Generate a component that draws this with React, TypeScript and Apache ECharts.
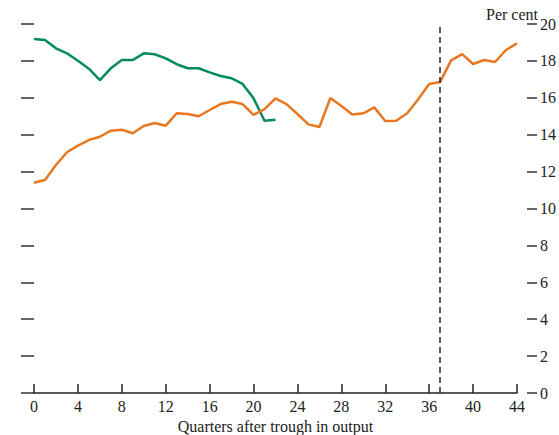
import { useEffect, useRef } from 'react';
import * as echarts from 'echarts';

const quarters = Array.from({ length: 45 }, (_, i) => i);

const greenSeries = [
  19.19, 19.13, 18.68, 18.41, 18.01, 17.58, 16.96, 17.6, 18.05, 18.05, 18.41, 18.36, 18.14, 17.82,
  17.6, 17.6, 17.38, 17.18, 17.06, 16.75, 15.97, 14.76, 14.81,
];

const orangeSeries = [
  11.4, 11.54, 12.36, 13.05, 13.41, 13.71, 13.89, 14.22, 14.27, 14.08, 14.47, 14.63, 14.49, 15.16,
  15.12, 15.0, 15.34, 15.66, 15.79, 15.66, 15.07, 15.39, 15.97, 15.66, 15.12, 14.56, 14.42, 15.99,
  15.56, 15.1, 15.16, 15.48, 14.74, 14.76, 15.16, 15.92, 16.75, 16.86, 18.03, 18.37, 17.83, 18.05,
  17.94, 18.59, 18.95,
];

const markerQuarter = 37;

const FONT = '"Liberation Serif", "DejaVu Serif", serif';

export default function App() {
  const chartRef = useRef<HTMLDivElement>(null);

  useEffect(() => {
    if (!chartRef.current) return;
    document.body.style.margin = '0';
    const chart = echarts.init(chartRef.current, undefined, { renderer: 'svg' });

    chart.setOption({
      animation: false,
      grid: { left: 34, right: 42, top: 24, bottom: 42, outerBoundsMode: 'none', containLabel: false },
      xAxis: {
        type: 'value',
        min: 0,
        max: 44,
        interval: 4,
        name: 'Quarters after trough in output',
        nameLocation: 'middle',
        nameGap: 25,
        nameTextStyle: { fontFamily: FONT, fontSize: 16, color: '#222' },
        axisLine: { lineStyle: { color: '#222', width: 1.5 } },
        axisTick: { inside: true, length: 9, lineStyle: { color: '#222', width: 1.5 } },
        axisLabel: { fontFamily: FONT, fontSize: 16, color: '#222', margin: 5 },
        splitLine: { show: false },
      },
      yAxis: [
        {
          type: 'value',
          position: 'left',
          min: 0,
          max: 20,
          interval: 2,
          offset: 8,
          axisLine: { show: false },
          axisTick: { show: true, length: 13, lineStyle: { color: '#333', width: 1.5 } },
          axisLabel: { show: false },
          splitLine: { show: false },
        },
        {
          type: 'value',
          position: 'right',
          min: 0,
          max: 20,
          interval: 2,
          offset: 10,
          axisLine: { show: false },
          axisTick: { show: true, length: 10, lineStyle: { color: '#333', width: 1.5 } },
          axisLabel: { fontFamily: FONT, fontSize: 16, color: '#222', margin: 13 },
          splitLine: { show: false },
        },
      ],
      graphic: [
        {
          type: 'text',
          right: 21,
          top: 6,
          style: { text: 'Per cent', font: `16px ${FONT}`, fill: '#222' },
        },
      ],
      series: [
        {
          type: 'line',
          data: greenSeries.map((v, i) => [quarters[i], v]),
          showSymbol: false,
          lineStyle: { color: '#008a5e', width: 2.5 },
          itemStyle: { color: '#008a5e' },
        },
        {
          type: 'line',
          data: orangeSeries.map((v, i) => [quarters[i], v]),
          showSymbol: false,
          lineStyle: { color: '#e87722', width: 2.5 },
          itemStyle: { color: '#e87722' },
          markLine: {
            silent: true,
            symbol: 'none',
            label: { show: false },
            lineStyle: { color: '#222', type: [6, 4], width: 1.5 },
            data: [{ xAxis: markerQuarter }],
          },
        },
      ],
    });

    return () => chart.dispose();
  }, []);

  return <div ref={chartRef} style={{ width: 559, height: 435 }} />;
}
